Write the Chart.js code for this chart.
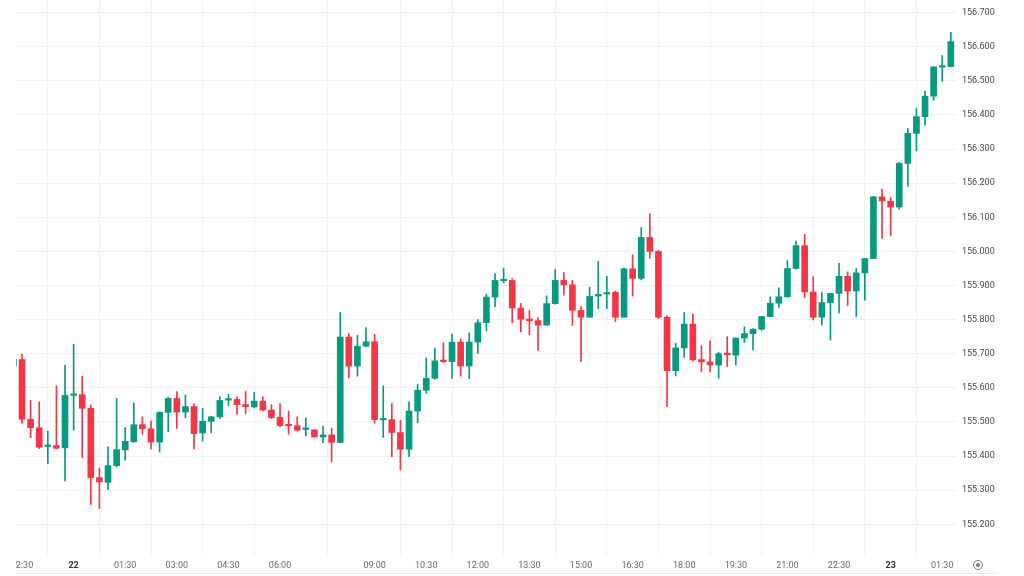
<!DOCTYPE html>
<html>
<head>
<meta charset="utf-8">
<script src="https://cdn.jsdelivr.net/npm/chart.js@4.4.1/dist/chart.umd.min.js"></script>
<style>
  html, body { margin: 0; padding: 0; background: #fff; overflow: hidden; }
  #wrap { position: absolute; left: 16px; top: 0; width: 1008px; height: 576px; }
  #baseLine { position: absolute; left: 16px; top: 573px; width: 982px; height: 1px; background: #e4e9e8; }
  #camIcon { position: absolute; left: 973px; top: 560px; width: 8px; height: 8px; border: 1px solid #7a7a7a; border-radius: 50%; }
  #camIcon::after { content: ''; position: absolute; left: 2px; top: 2px; width: 4px; height: 4px; border-radius: 50%; background: #7a7a7a; }
</style>
</head>
<body>
<div id="wrap"><canvas id="grafico" width="1008" height="576"></canvas></div>
<div id="baseLine"></div>
<div id="camIcon"></div>
<script>
// velas de 15 minutos, la primera (índice -1) queda cortada a la izquierda
const primerIndice = -1;
const aperturas = [
  155.665, 155.683, 155.508, 155.483, 155.428, 155.431, 155.424, 155.578, 155.580, 155.540,
  155.337, 155.323, 155.372, 155.418, 155.442, 155.492, 155.480, 155.441, 155.528, 155.569,
  155.529, 155.545, 155.468, 155.502, 155.515, 155.564, 155.566, 155.551, 155.544, 155.561,
  155.535, 155.514, 155.490, 155.489, 155.478, 155.477, 155.456, 155.462, 155.440, 155.749,
  155.664, 155.722, 155.735, 155.506, 155.507, 155.469, 155.420, 155.532, 155.593, 155.628,
  155.680, 155.677, 155.734, 155.664, 155.734, 155.791, 155.866, 155.914, 155.915, 155.834,
  155.802, 155.797, 155.784, 155.847, 155.915, 155.902, 155.827, 155.807, 155.869, 155.875,
  155.880, 155.807, 155.949, 155.921, 156.041, 156.000, 155.807, 155.650, 155.717, 155.787,
  155.683, 155.676, 155.667, 155.700, 155.696, 155.746, 155.759, 155.772, 155.809, 155.848,
  155.867, 155.950, 156.017, 155.881, 155.807, 155.850, 155.877, 155.927, 155.884, 155.937,
  155.979, 156.160, 156.147, 156.130, 156.258, 156.346, 156.395, 156.455, 156.540, 156.542
];
const maximos = [
  155.690, 155.698, 155.563, 155.559, 155.473, 155.606, 155.666, 155.728, 155.634, 155.550,
  155.364, 155.427, 155.569, 155.484, 155.556, 155.515, 155.503, 155.530, 155.572, 155.589,
  155.579, 155.554, 155.540, 155.517, 155.574, 155.581, 155.574, 155.590, 155.587, 155.574,
  155.551, 155.554, 155.532, 155.515, 155.512, 155.477, 155.488, 155.481, 155.821, 155.759,
  155.754, 155.777, 155.757, 155.606, 155.554, 155.505, 155.559, 155.610, 155.688, 155.716,
  155.732, 155.758, 155.744, 155.761, 155.800, 155.875, 155.935, 155.951, 155.920, 155.847,
  155.828, 155.806, 155.870, 155.947, 155.938, 155.915, 155.838, 155.895, 155.971, 155.927,
  155.884, 155.951, 155.990, 156.070, 156.110, 156.003, 155.811, 155.731, 155.821, 155.817,
  155.723, 155.738, 155.704, 155.750, 155.746, 155.779, 155.774, 155.809, 155.867, 155.893,
  155.973, 156.030, 156.050, 155.926, 155.879, 155.877, 155.965, 155.940, 155.950, 155.979,
  156.161, 156.183, 156.158, 156.261, 156.360, 156.419, 156.470, 156.541, 156.574, 156.642
];
const minimos = [
  155.655, 155.496, 155.454, 155.422, 155.377, 155.421, 155.327, 155.476, 155.395, 155.258,
  155.246, 155.302, 155.369, 155.388, 155.440, 155.464, 155.421, 155.412, 155.471, 155.481,
  155.512, 155.421, 155.444, 155.468, 155.510, 155.548, 155.522, 155.524, 155.541, 155.532,
  155.510, 155.486, 155.464, 155.474, 155.459, 155.456, 155.439, 155.383, 155.439, 155.629,
  155.634, 155.720, 155.496, 155.455, 155.398, 155.359, 155.398, 155.498, 155.584, 155.625,
  155.674, 155.628, 155.634, 155.627, 155.701, 155.767, 155.838, 155.908, 155.791, 155.764,
  155.756, 155.710, 155.783, 155.845, 155.872, 155.783, 155.677, 155.807, 155.832, 155.832,
  155.794, 155.807, 155.869, 155.917, 155.980, 155.803, 155.545, 155.635, 155.689, 155.679,
  155.648, 155.647, 155.628, 155.662, 155.667, 155.733, 155.711, 155.769, 155.808, 155.836,
  155.866, 155.948, 155.865, 155.799, 155.784, 155.740, 155.820, 155.841, 155.809, 155.857,
  155.979, 156.038, 156.046, 156.124, 156.191, 156.295, 156.370, 156.443, 156.499, 156.541
];
const cierres = [
  155.684, 155.508, 155.483, 155.426, 155.430, 155.423, 155.578, 155.580, 155.540, 155.337,
  155.324, 155.372, 155.419, 155.443, 155.492, 155.480, 155.441, 155.528, 155.569, 155.529,
  155.545, 155.466, 155.502, 155.515, 155.563, 155.567, 155.551, 155.545, 155.561, 155.535,
  155.513, 155.489, 155.489, 155.476, 155.480, 155.456, 155.462, 155.440, 155.749, 155.664,
  155.722, 155.735, 155.507, 155.509, 155.469, 155.420, 155.532, 155.593, 155.628, 155.679,
  155.677, 155.734, 155.664, 155.734, 155.791, 155.866, 155.915, 155.917, 155.834, 155.801,
  155.797, 155.784, 155.847, 155.915, 155.902, 155.827, 155.807, 155.868, 155.874, 155.879,
  155.807, 155.949, 155.921, 156.041, 156.000, 155.807, 155.650, 155.717, 155.787, 155.682,
  155.676, 155.667, 155.700, 155.697, 155.746, 155.759, 155.772, 155.809, 155.848, 155.867,
  155.950, 156.017, 155.881, 155.807, 155.850, 155.877, 155.927, 155.884, 155.937, 155.979,
  156.160, 156.148, 156.130, 156.258, 156.346, 156.395, 156.455, 156.541, 156.542, 156.615
];

// etiquetas del eje X (índice de vela donde cae cada una)
const etiquetasX = ['22:30', '22', '01:30', '03:00', '04:30', '06:00', '09:00', '10:30', '12:00',
  '13:30', '15:00', '16:30', '18:00', '19:30', '21:00', '22:30', '23', '01:30'];
const posicionesX = [0, 6, 12, 18, 24, 30, 41, 47, 53, 59, 65, 71, 77, 83, 89, 95, 101, 107];
const etiquetasDia = ['22', '23'];

const ticksY = [155.2, 155.3, 155.4, 155.5, 155.6, 155.7, 155.8, 155.9, 156.0, 156.1, 156.2, 156.3, 156.4, 156.5, 156.6, 156.7];

const VERDE = '#089981';
const ROJO = '#f23645';

const mechas = [];
const cuerpos = [];
const colores = [];
for (let i = 0; i < aperturas.length; i++) {
    const x = primerIndice + i;
    mechas.push({ x: x, y: [minimos[i], maximos[i]] });
    cuerpos.push({ x: x, y: [aperturas[i], cierres[i]] });
    colores.push(cierres[i] >= aperturas[i] ? VERDE : ROJO);
}

function etiquetaDe(valor) {
    const idx = posicionesX.indexOf(valor);
    return idx >= 0 ? etiquetasX[idx] : '';
}

function esDia(ctx) {
    return !!(ctx && ctx.tick) && etiquetasDia.includes(etiquetaDe(ctx.tick.value));
}

const ctx = document.getElementById('grafico').getContext('2d');
new Chart(ctx, {
    type: 'bar',
    data: {
        datasets: [
            { data: mechas, backgroundColor: colores, barThickness: 1, grouped: false, borderWidth: 0, order: 2 },
            { data: cuerpos, backgroundColor: colores, barThickness: 6, grouped: false, borderWidth: 0, minBarLength: 1.5, order: 1 }
        ]
    },
    options: {
        responsive: false,
        animation: false,
        layout: { padding: 0 },
        plugins: { legend: { display: false }, tooltip: { enabled: false } },
        scales: {
            x: {
                type: 'linear',
                min: -0.70,
                max: 108.6,
                offset: false,
                grid: { color: '#f0f1f1', drawTicks: false },
                border: { display: false },
                ticks: {
                    autoSkip: false,
                    maxRotation: 0,
                    padding: 5,
                    color: c => esDia(c) ? '#333' : '#6a6a6a',
                    font: c => ({ family: 'Roboto', size: 9, weight: esDia(c) ? 'bold' : 'normal' }),
                    callback: v => etiquetaDe(v)
                },
                afterBuildTicks: s => { s.ticks = posicionesX.map(v => ({ value: v })); },
                afterFit: s => { s.height = 21; s.paddingLeft = 0; s.paddingRight = 0; }
            },
            y: {
                position: 'right',
                min: 155.110,
                max: 156.737,
                grid: { color: '#f0f1f1', drawTicks: false },
                border: { display: false },
                ticks: {
                    padding: 6,
                    color: '#484848',
                    font: { family: 'Roboto', size: 9 },
                    callback: v => v.toFixed(3)
                },
                afterBuildTicks: s => { s.ticks = ticksY.map(v => ({ value: v })); },
                afterFit: s => { s.width = 68; s.paddingTop = 0; s.paddingBottom = 0; }
            }
        }
    }
});
</script>
</body>
</html>
